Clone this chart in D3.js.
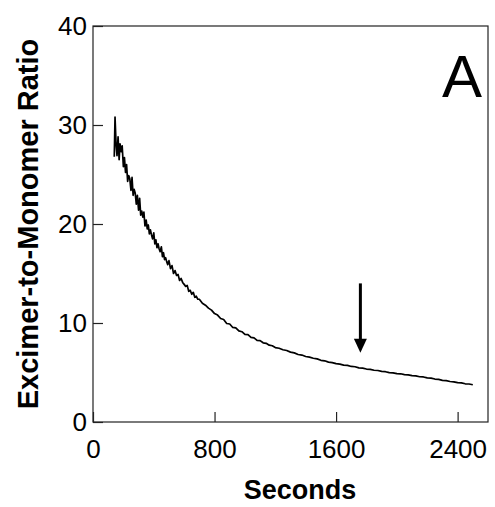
<!DOCTYPE html>
<html>
<head>
<meta charset="utf-8">
<script src="https://cdn.jsdelivr.net/npm/d3@7"></script>
<style>
  body { margin: 0; background: #fff; }
  text { font-family: "Liberation Sans", Arial, sans-serif; fill: #000; }
</style>
</head>
<body>
<div id="chart"></div>
<script>
// time (s) and excimer-to-monomer ratio
const seconds = [
  140,145,152,158,165,172,178,185,192,200,207,214,221,228,235,242,250,257,264,271,
  278,285,292,300,307,314,321,328,335,342,350,357,364,371,378,385,392,400,407,414,
  421,428,435,442,450,457,464,471,478,485,492,500,510,520,530,540,550,560,570,580,
  590,600,610,620,630,640,650,660,670,680,690,700,
  720,740,760,780,800,820,840,860,880,900,920,940,960,980,1000,1020,1040,1060,1080,1100,
  1120,1140,1160,1180,1200,
  1225,1250,1275,1300,1325,1350,1375,1400,1425,1450,1475,1500,1525,1550,1575,1600,
  1625,1650,1675,1700,1725,1750,1775,1800,1825,1850,1875,1900,1925,1950,1975,2000,
  2025,2050,2075,2100,2125,2150,2175,2200,2225,2250,2275,2300,2325,2350,2375,2400,
  2425,2450,2475,2500
];
const ratio = [
  26.8,30.8,28.0,26.9,28.8,26.5,28.1,27.3,27.9,25.8,26.7,25.2,26.0,24.3,24.9,24.6,23.4,24.7,22.9,23.5,
  23.1,22.0,22.9,21.4,22.6,20.9,21.3,20.7,21.2,19.8,20.4,19.5,19.9,19.0,19.4,18.9,18.5,19.1,18.0,18.4,
  17.6,18.0,17.5,17.2,17.7,16.7,17.1,16.4,16.6,16.2,15.9,16.3,15.5,15.8,15.0,15.3,14.8,14.9,14.3,14.5,
  14.1,13.9,13.7,13.8,13.2,13.3,12.9,13.1,12.6,12.7,12.4,12.4,
  12.0,11.8,11.5,11.3,10.95,10.8,10.45,10.35,9.95,9.9,9.55,9.5,9.2,9.12,8.85,8.82,8.55,8.5,8.25,8.22,
  8.0,7.95,7.76,7.7,7.52,
  7.45,7.3,7.22,7.06,6.98,6.82,6.76,6.62,6.55,6.44,6.38,6.23,6.18,6.05,6.0,5.89,
  5.85,5.75,5.72,5.61,5.58,5.47,5.44,5.35,5.32,5.23,5.2,5.11,5.08,4.99,4.97,4.89,
  4.87,4.79,4.76,4.69,4.66,4.57,4.55,4.45,4.43,4.34,4.3,4.21,4.18,4.09,4.06,3.97,
  3.95,3.86,3.84,3.76
];
const xTicks = [0, 800, 1600, 2400];
const yTicks = [0, 10, 20, 30, 40];
const xDomain = [0, 2600];
const yDomain = [0, 40];
// arrow marker: position in seconds, from ratio 14 down to 7
const arrowAt = 1760;
const arrowFrom = 14;
const arrowTo = 7;
const panelLabel = "A";

const W = 495, H = 507;
const margin = {top: 26, right: 7, bottom: 85, left: 93};
const width = W - margin.left - margin.right;
const height = H - margin.top - margin.bottom;

const svg = d3.select("#chart").append("svg")
    .attr("width", W)
    .attr("height", H);

const g = svg.append("g")
    .attr("transform", `translate(${margin.left},${margin.top})`);

const x = d3.scaleLinear().domain(xDomain).range([0, width]);
const y = d3.scaleLinear().domain(yDomain).range([height, 0]);

// frame
g.append("rect")
    .attr("width", width)
    .attr("height", height)
    .attr("fill", "none")
    .attr("stroke", "#222")
    .attr("stroke-width", 1.2);

// axes, ticks pointing inward
const xAxis = g.append("g")
    .attr("transform", `translate(0,${height})`)
    .call(d3.axisBottom(x).tickValues(xTicks).tickFormat(d3.format("d"))
        .tickSizeInner(-10).tickSizeOuter(0).tickPadding(18));
const yAxis = g.append("g")
    .call(d3.axisLeft(y).tickValues(yTicks).tickFormat(d3.format("d"))
        .tickSizeInner(-10).tickSizeOuter(0).tickPadding(6));

[xAxis, yAxis].forEach(a => {
    a.select(".domain").remove();
    a.selectAll(".tick line").attr("stroke", "#222").attr("stroke-width", 1.2);
    a.selectAll(".tick text")
        .attr("font-size", 26)
        .attr("font-family", "Liberation Sans, Arial, sans-serif")
        .attr("fill", "#000");
});
xAxis.selectAll(".tick text").attr("dy", "0.71em");

// trace
const points = seconds.map((s, i) => [s, ratio[i]]);
g.append("path")
    .datum(points)
    .attr("fill", "none")
    .attr("stroke", "#000")
    .attr("stroke-width", 1.7)
    .attr("stroke-linejoin", "round")
    .attr("d", d3.line().x(d => x(d[0])).y(d => y(d[1])));

// arrow
const ax = x(arrowAt);
const headLen = 14, headW = 13;
g.append("line")
    .attr("x1", ax).attr("x2", ax)
    .attr("y1", y(arrowFrom)).attr("y2", y(arrowTo) - headLen + 1)
    .attr("stroke", "#000")
    .attr("stroke-width", 3);
g.append("path")
    .attr("d", `M${ax - headW / 2},${y(arrowTo) - headLen} L${ax + headW / 2},${y(arrowTo) - headLen} L${ax},${y(arrowTo)} Z`)
    .attr("fill", "#000");

// panel letter
g.append("text")
    .attr("x", width - 6)
    .attr("y", 71)
    .attr("text-anchor", "end")
    .attr("font-size", 60)
    .text(panelLabel);

// axis titles
svg.append("text")
    .attr("x", 300)
    .attr("y", 499)
    .attr("text-anchor", "middle")
    .attr("font-size", 27)
    .attr("font-weight", "bold")
    .text("Seconds");

svg.append("text")
    .attr("transform", `translate(38,224) rotate(-90)`)
    .attr("text-anchor", "middle")
    .attr("font-size", 29)
    .attr("font-weight", "bold")
    .text("Excimer-to-Monomer Ratio");
</script>
</body>
</html>
